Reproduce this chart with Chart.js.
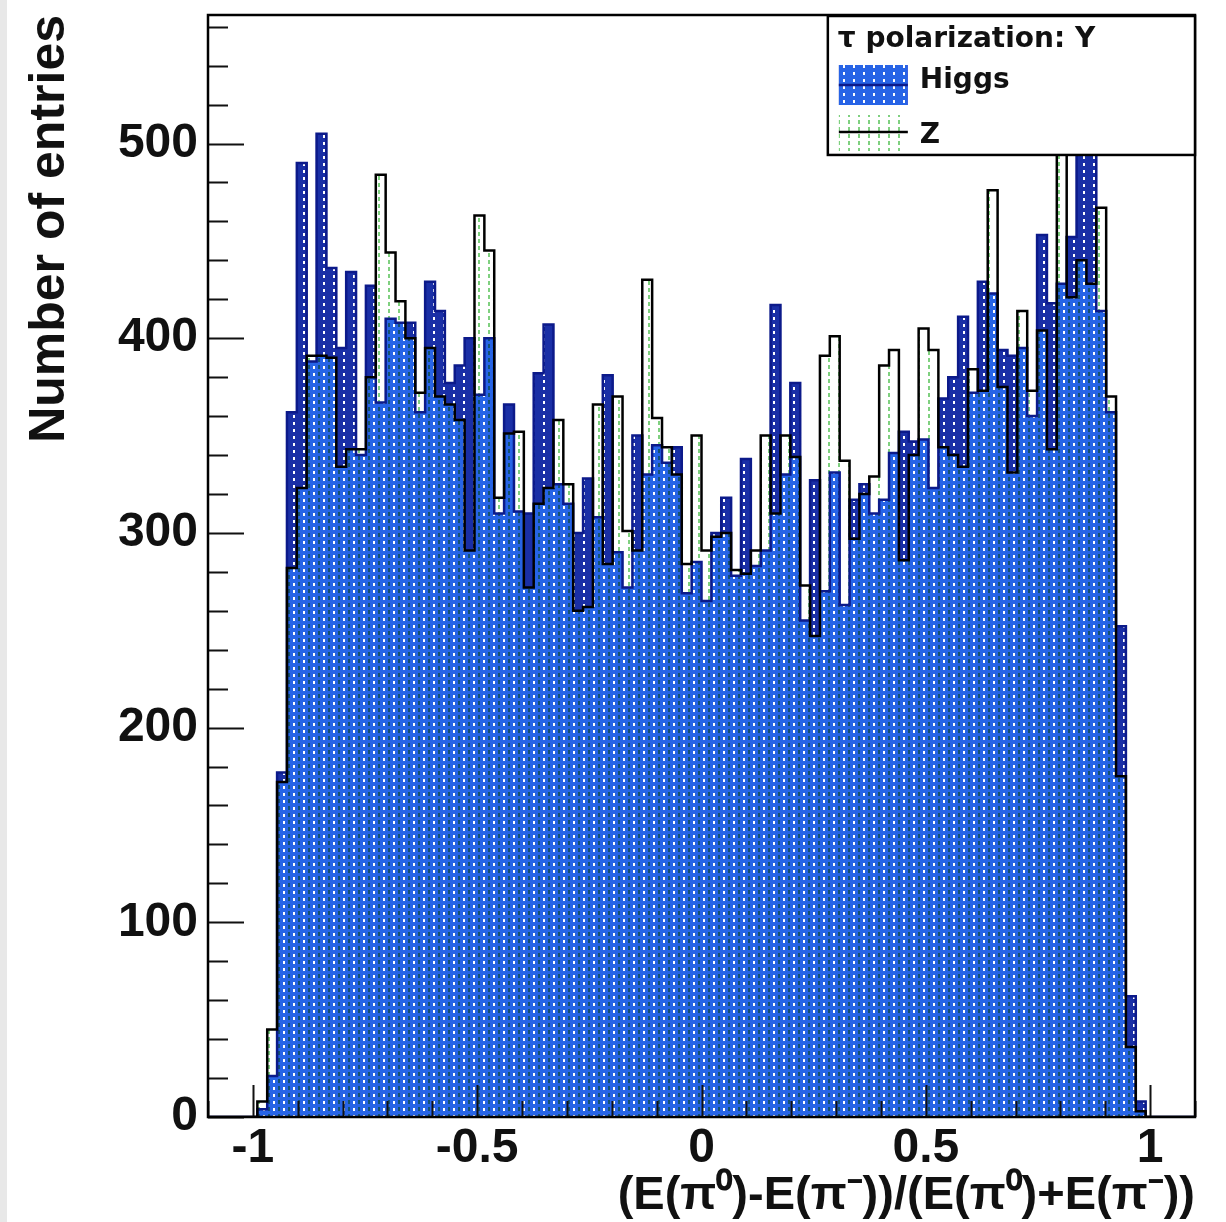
<!DOCTYPE html>
<html><head><meta charset="utf-8">
<script src="https://cdn.jsdelivr.net/npm/chart.js@4/dist/chart.umd.min.js"></script>
<style>
html,body{margin:0;padding:0;background:#fff;}
#wrap{position:relative;width:1226px;height:1222px;overflow:hidden;}
#strip{position:absolute;left:0;top:0;width:7px;height:1222px;background:#e8e8e8;}
canvas{position:absolute;left:0;top:0;}
</style></head><body>
<div id="wrap"><canvas id="c" width="1226" height="1222"></canvas><div id="strip"></div></div>
<script>
// ---- data (100 bins from -1.1 to 1.1) ----
const binLow = -1.1;
const binHigh = 1.1;
const higgs = [
  0, 0, 0, 0, 0, 4, 21, 177, 362, 490,
  388, 505, 436, 395, 434, 340, 427, 367, 410, 408,
  408, 362, 429, 414, 377, 386, 400, 371, 400, 310,
  366, 311, 310, 382, 407, 325, 315, 300, 328, 308,
  381, 290, 272, 350, 330, 345, 336, 344, 269, 285,
  265, 300, 318, 278, 338, 283, 291, 417, 330, 377,
  255, 327, 270, 331, 263, 317, 325, 310, 317, 341,
  352, 347, 348, 323, 369, 380, 411, 372, 429, 423,
  394, 391, 395, 360, 453, 418, 428, 452, 539, 520,
  414, 362, 252, 62, 8, 0, 0, 0, 0, 0
];
const zBoson = [
  0, 0, 0, 0, 0, 8, 45, 172, 282, 323,
  391, 391, 390, 334, 343, 343, 380, 484, 444, 419,
  400, 372, 395, 370, 366, 358, 291, 463, 445, 318,
  351, 352, 272, 315, 323, 358, 325, 260, 262, 366,
  284, 370, 301, 291, 430, 359, 344, 330, 284, 350,
  291, 298, 300, 281, 279, 291, 350, 310, 350, 339,
  273, 247, 391, 401, 337, 297, 320, 329, 386, 394,
  286, 340, 405, 394, 344, 340, 334, 384, 373, 476,
  375, 331, 414, 373, 404, 343, 505, 421, 440, 428,
  467, 370, 175, 36, 3, 0, 0, 0, 0, 0
];
const xTickValues = [-1, -0.5, 0, 0.5, 1];
const yTickValues = [0, 100, 200, 300, 400, 500];
const seriesNames = ['Higgs', 'Z'];
const legendHeader = 'τ polarization: Y';
const xTitle = '(E(π⁰)-E(π⁻))/(E(π⁰)+E(π⁻))';
const yTitle = 'Number of entries';

// histogram points at bin edges (stepped line)
function toSteps(vals) {
  const w = (binHigh - binLow) / vals.length;
  const pts = vals.map((v, i) => ({x: binLow + i * w, y: v}));
  pts.push({x: binHigh, y: 0});
  return pts;
}

function makePattern(w, h, bg, draw) {
  const c = document.createElement('canvas');
  c.width = w; c.height = h;
  const g = c.getContext('2d');
  if (bg) { g.fillStyle = bg; g.fillRect(0, 0, w, h); }
  draw(g);
  return g.createPattern(c, 'repeat');
}
const higgsPattern = makePattern(10, 7, '#1a2fa6', g => { g.fillStyle = '#ffffff'; g.fillRect(3, 2, 2, 3); });
const zPattern = makePattern(10, 7, null, g => { g.fillStyle = '#7fd07f'; g.fillRect(8, 1, 2, 4); });
const tintColor = '#2764e6';
const higgsLine = '#0c1a8a';

// fill the area under a stepped dataset, using the pixel positions computed by the chart's scales
function fillUnder(chart, idx, style, op) {
  const ctx = chart.ctx, a = chart.chartArea;
  const pts = chart.getDatasetMeta(idx).data;
  const base = chart.scales.y.getPixelForValue(0);
  ctx.save();
  ctx.beginPath(); ctx.rect(a.left, a.top, a.right - a.left, a.bottom - a.top); ctx.clip();
  ctx.globalCompositeOperation = op;
  ctx.beginPath();
  ctx.moveTo(pts[0].x, base);
  for (let i = 0; i < pts.length - 1; i++) {
    ctx.lineTo(pts[i].x, pts[i].y);
    ctx.lineTo(pts[i + 1].x, pts[i].y);
  }
  ctx.lineTo(pts[pts.length - 1].x, base);
  ctx.closePath();
  ctx.fillStyle = style;
  ctx.fill();
  ctx.restore();
}

const fillPlugin = {
  id: 'histFill',
  beforeDraw(chart) {
    const ctx = chart.ctx;
    ctx.save();
    ctx.fillStyle = '#ffffff';
    ctx.fillRect(0, 0, chart.width, chart.height);
    ctx.restore();
  },
  beforeDatasetsDraw(chart) {
    fillUnder(chart, 1, higgsPattern, 'source-over'); // Higgs
    fillUnder(chart, 0, tintColor, 'lighten');         // overlap tint
    fillUnder(chart, 0, zPattern, 'multiply');         // Z hatch
  }
};

const decorPlugin = {
  id: 'decor',
  afterDatasetsDraw(chart) {
    const ctx = chart.ctx, a = chart.chartArea;
    const xs = chart.scales.x, ys = chart.scales.y;
    ctx.save();
    ctx.globalCompositeOperation = 'source-over';
    // ticks
    ctx.strokeStyle = '#111'; ctx.lineWidth = 2;
    ctx.beginPath();
    for (let k = 0; k * 20 <= ys.max; k++) {
      const py = Math.round(ys.getPixelForValue(k * 20)) + 0.5;
      const len = (k % 5 === 0) ? 36 : 20;
      ctx.moveTo(a.left, py); ctx.lineTo(a.left + len, py);
    }
    for (let k = -11; k <= 11; k++) {
      const px = Math.round(xs.getPixelForValue(k / 10)) + 0.5;
      const len = (k % 5 === 0) ? 32 : 16;
      ctx.moveTo(px, a.bottom); ctx.lineTo(px, a.bottom - len);
    }
    ctx.stroke();
    // frame
    ctx.lineWidth = 2.5; ctx.strokeStyle = '#000';
    ctx.strokeRect(a.left, a.top, a.right - a.left, a.bottom - a.top);
    // legend
    const W = a.right - a.left, H = a.bottom - a.top;
    const x1 = a.left + 0.628 * W, y1 = a.top + 1, x2 = a.right, y2 = a.top + 0.127 * H;
    ctx.fillStyle = '#fff';
    ctx.fillRect(x1, y1, x2 - x1, y2 - y1);
    ctx.strokeRect(x1, y1, x2 - x1, y2 - y1);
    ctx.fillStyle = '#111';
    ctx.font = 'bold 28px "DejaVu Sans"';
    ctx.textBaseline = 'alphabetic'; ctx.textAlign = 'left';
    ctx.fillText(legendHeader, x1 + 10, y1 + 31);
    // Higgs swatch
    const sx = x1 + 11, sw = 69;
    ctx.fillStyle = higgsPattern; ctx.fillRect(sx, y1 + 49, sw, 40);
    ctx.globalCompositeOperation = 'lighten';
    ctx.fillStyle = tintColor; ctx.fillRect(sx, y1 + 49, sw, 40);
    ctx.globalCompositeOperation = 'source-over';
    ctx.strokeStyle = higgsLine; ctx.lineWidth = 2.5;
    ctx.beginPath(); ctx.moveTo(sx, y1 + 69); ctx.lineTo(sx + sw, y1 + 69); ctx.stroke();
    // Z swatch
    ctx.fillStyle = zPattern; ctx.fillRect(sx, y1 + 99, sw, 36);
    ctx.strokeStyle = '#000';
    ctx.beginPath(); ctx.moveTo(sx, y1 + 116); ctx.lineTo(sx + sw, y1 + 116); ctx.stroke();
    ctx.fillStyle = '#111';
    ctx.fillText(seriesNames[0], x1 + 92, y1 + 72);
    ctx.fillText(seriesNames[1], x1 + 92, y1 + 127);
    ctx.restore();
  }
};

const tickFont = {family: '"Liberation Sans", Arial, sans-serif', size: 48, weight: 'bold'};

new Chart(document.getElementById('c'), {
  type: 'line',
  data: {
    datasets: [
      { label: seriesNames[1], data: toSteps(zBoson), order: 1, stepped: true,
        borderColor: '#000', borderWidth: 2.5, fill: false, pointRadius: 0 },
      { label: seriesNames[0], data: toSteps(higgs), order: 2, stepped: true,
        borderColor: higgsLine, borderWidth: 2.5, fill: false, pointRadius: 0 }
    ]
  },
  options: {
    responsive: false, animation: false, devicePixelRatio: 1,
    layout: {padding: {left: 0, right: 31, top: 15, bottom: 0}},
    plugins: {legend: {display: false}, tooltip: {enabled: false}},
    elements: {line: {tension: 0}},
    scales: {
      x: {
        type: 'linear', min: binLow, max: binHigh,
        afterBuildTicks: s => { s.ticks = xTickValues.map(v => ({value: v})); },
        afterFit: s => { s.height = 105; s.paddingLeft = 0; s.paddingRight = 0; },
        grid: {display: false, drawTicks: false}, border: {display: false},
        ticks: {font: tickFont, color: '#111', padding: 3, maxRotation: 0, autoSkip: false,
                callback: v => String(v)},
        title: {display: true, text: xTitle, align: 'end', color: '#111',
                font: {family: '"Liberation Sans", Arial, sans-serif', size: 47, weight: 'bold', lineHeight: 1},
                padding: {top: 0, bottom: 2}}
      },
      y: {
        type: 'linear', min: 0, max: 566,
        afterBuildTicks: s => { s.ticks = yTickValues.map(v => ({value: v})); },
        afterFit: s => { s.width = 208; s.paddingTop = 0; s.paddingBottom = 0; },
        grid: {display: false, drawTicks: false}, border: {display: false},
        ticks: {font: tickFont, color: '#111', padding: 10, autoSkip: false, callback: v => String(v)},
        title: {display: true, text: yTitle, align: 'end', color: '#111',
                font: {family: '"Liberation Sans", Arial, sans-serif', size: 50, weight: 'bold', lineHeight: 1},
                padding: {top: 25, bottom: 0}}
      }
    }
  },
  plugins: [fillPlugin, decorPlugin]
});
</script>
</body></html>
